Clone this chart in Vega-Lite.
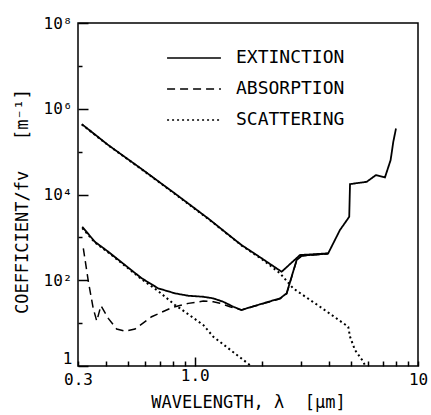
{
  "$schema": "https://vega.github.io/schema/vega-lite/v6.json",
  "width": 340,
  "height": 343,
  "autosize": {"type": "none"},
  "padding": {"left": 78, "top": 23, "right": 13, "bottom": 49},
  "background": "white",
  "config": {
    "view": {"stroke": "black", "strokeWidth": 1.5},
    "axis": {"domain": false, "grid": false, "tickColor": "black", "tickWidth": 1.5, "labelColor": "black", "titleColor": "black", "labelFont": "DejaVu Sans Mono", "titleFont": "DejaVu Sans Mono", "titleFontWeight": "normal", "labelOverlap": false, "labelFlush": false}
  },
  "data": {"values": [
    {"curve": "abs", "type": "ABSORPTION", "lam": 0.317, "val": 554},
    {"curve": "abs", "type": "ABSORPTION", "lam": 0.334, "val": 92},
    {"curve": "abs", "type": "ABSORPTION", "lam": 0.351, "val": 22},
    {"curve": "abs", "type": "ABSORPTION", "lam": 0.364, "val": 11.2},
    {"curve": "abs", "type": "ABSORPTION", "lam": 0.38, "val": 25.5},
    {"curve": "abs", "type": "ABSORPTION", "lam": 0.41, "val": 12.9},
    {"curve": "abs", "type": "ABSORPTION", "lam": 0.447, "val": 7.3},
    {"curve": "abs", "type": "ABSORPTION", "lam": 0.487, "val": 6.5},
    {"curve": "abs", "type": "ABSORPTION", "lam": 0.54, "val": 7.3},
    {"curve": "abs", "type": "ABSORPTION", "lam": 0.641, "val": 14.1},
    {"curve": "abs", "type": "ABSORPTION", "lam": 0.789, "val": 22.9},
    {"curve": "abs", "type": "ABSORPTION", "lam": 0.936, "val": 28.9},
    {"curve": "abs", "type": "ABSORPTION", "lam": 1.092, "val": 32.7},
    {"curve": "abs", "type": "ABSORPTION", "lam": 1.211, "val": 31.5},
    {"curve": "abs", "type": "ABSORPTION", "lam": 1.297, "val": 29},
    {"curve": "abs", "type": "ABSORPTION", "lam": 1.438, "val": 24.1},
    {"curve": "abs", "type": "ABSORPTION", "lam": 1.62, "val": 20.2},
    {"curve": "abs", "type": "ABSORPTION", "lam": 1.708, "val": 22},
    {"curve": "abs", "type": "ABSORPTION", "lam": 2.03, "val": 28.5},
    {"curve": "abs", "type": "ABSORPTION", "lam": 2.41, "val": 37},
    {"curve": "abs", "type": "ABSORPTION", "lam": 2.58, "val": 48},
    {"curve": "abs", "type": "ABSORPTION", "lam": 2.86, "val": 290},
    {"curve": "abs", "type": "ABSORPTION", "lam": 3.01, "val": 370},
    {"curve": "abs", "type": "ABSORPTION", "lam": 3.96, "val": 415},

    {"curve": "sca_hi", "type": "SCATTERING", "lam": 0.312, "val": 430000},
    {"curve": "sca_hi", "type": "SCATTERING", "lam": 0.41, "val": 140000},
    {"curve": "sca_hi", "type": "SCATTERING", "lam": 0.579, "val": 38500},
    {"curve": "sca_hi", "type": "SCATTERING", "lam": 0.816, "val": 10300},
    {"curve": "sca_hi", "type": "SCATTERING", "lam": 1.15, "val": 2700},
    {"curve": "sca_hi", "type": "SCATTERING", "lam": 1.62, "val": 650},
    {"curve": "sca_hi", "type": "SCATTERING", "lam": 2.0, "val": 310},
    {"curve": "sca_hi", "type": "SCATTERING", "lam": 2.41, "val": 145},
    {"curve": "sca_hi", "type": "SCATTERING", "lam": 2.76, "val": 64.7},
    {"curve": "sca_hi", "type": "SCATTERING", "lam": 3.64, "val": 24.1},
    {"curve": "sca_hi", "type": "SCATTERING", "lam": 4.87, "val": 8.24},
    {"curve": "sca_hi", "type": "SCATTERING", "lam": 4.96, "val": 4.82},
    {"curve": "sca_hi", "type": "SCATTERING", "lam": 5.22, "val": 2.36},
    {"curve": "sca_hi", "type": "SCATTERING", "lam": 5.69, "val": 1.26},
    {"curve": "sca_hi", "type": "SCATTERING", "lam": 5.8, "val": 1.0},

    {"curve": "sca_lo", "type": "SCATTERING", "lam": 0.3135, "val": 1650},
    {"curve": "sca_lo", "type": "SCATTERING", "lam": 0.357, "val": 760},
    {"curve": "sca_lo", "type": "SCATTERING", "lam": 0.41, "val": 445},
    {"curve": "sca_lo", "type": "SCATTERING", "lam": 0.487, "val": 218},
    {"curve": "sca_lo", "type": "SCATTERING", "lam": 0.579, "val": 105},
    {"curve": "sca_lo", "type": "SCATTERING", "lam": 0.686, "val": 56},
    {"curve": "sca_lo", "type": "SCATTERING", "lam": 0.816, "val": 26.4},
    {"curve": "sca_lo", "type": "SCATTERING", "lam": 0.859, "val": 22.1},
    {"curve": "sca_lo", "type": "SCATTERING", "lam": 1.092, "val": 9.03},
    {"curve": "sca_lo", "type": "SCATTERING", "lam": 1.211, "val": 4.82},
    {"curve": "sca_lo", "type": "SCATTERING", "lam": 1.768, "val": 1.05},
    {"curve": "sca_lo", "type": "SCATTERING", "lam": 1.8, "val": 1.0},

    {"curve": "ext_hi", "type": "EXTINCTION", "lam": 0.312, "val": 438000},
    {"curve": "ext_hi", "type": "EXTINCTION", "lam": 0.41, "val": 142000},
    {"curve": "ext_hi", "type": "EXTINCTION", "lam": 0.579, "val": 39100},
    {"curve": "ext_hi", "type": "EXTINCTION", "lam": 0.816, "val": 10500},
    {"curve": "ext_hi", "type": "EXTINCTION", "lam": 1.15, "val": 2743},
    {"curve": "ext_hi", "type": "EXTINCTION", "lam": 1.62, "val": 662},
    {"curve": "ext_hi", "type": "EXTINCTION", "lam": 1.995, "val": 324},
    {"curve": "ext_hi", "type": "EXTINCTION", "lam": 2.45, "val": 158},
    {"curve": "ext_hi", "type": "EXTINCTION", "lam": 2.96, "val": 387},
    {"curve": "ext_hi", "type": "EXTINCTION", "lam": 3.96, "val": 424},
    {"curve": "ext_hi", "type": "EXTINCTION", "lam": 4.47, "val": 1480},
    {"curve": "ext_hi", "type": "EXTINCTION", "lam": 4.92, "val": 3020},
    {"curve": "ext_hi", "type": "EXTINCTION", "lam": 4.96, "val": 17470},
    {"curve": "ext_hi", "type": "EXTINCTION", "lam": 5.89, "val": 19780},
    {"curve": "ext_hi", "type": "EXTINCTION", "lam": 6.48, "val": 28330},
    {"curve": "ext_hi", "type": "EXTINCTION", "lam": 7.11, "val": 25000},
    {"curve": "ext_hi", "type": "EXTINCTION", "lam": 7.54, "val": 63500},
    {"curve": "ext_hi", "type": "EXTINCTION", "lam": 7.75, "val": 169000},
    {"curve": "ext_hi", "type": "EXTINCTION", "lam": 7.97, "val": 347000},

    {"curve": "ext_lo", "type": "EXTINCTION", "lam": 0.3135, "val": 1766},
    {"curve": "ext_lo", "type": "EXTINCTION", "lam": 0.357, "val": 789},
    {"curve": "ext_lo", "type": "EXTINCTION", "lam": 0.41, "val": 462},
    {"curve": "ext_lo", "type": "EXTINCTION", "lam": 0.487, "val": 226},
    {"curve": "ext_lo", "type": "EXTINCTION", "lam": 0.579, "val": 111},
    {"curve": "ext_lo", "type": "EXTINCTION", "lam": 0.686, "val": 64.7},
    {"curve": "ext_lo", "type": "EXTINCTION", "lam": 0.816, "val": 49.5},
    {"curve": "ext_lo", "type": "EXTINCTION", "lam": 0.936, "val": 43.5},
    {"curve": "ext_lo", "type": "EXTINCTION", "lam": 1.092, "val": 41.2},
    {"curve": "ext_lo", "type": "EXTINCTION", "lam": 1.211, "val": 37.8},
    {"curve": "ext_lo", "type": "EXTINCTION", "lam": 1.342, "val": 31.5},
    {"curve": "ext_lo", "type": "EXTINCTION", "lam": 1.488, "val": 24.1},
    {"curve": "ext_lo", "type": "EXTINCTION", "lam": 1.62, "val": 20.2},
    {"curve": "ext_lo", "type": "EXTINCTION", "lam": 1.708, "val": 22.1},
    {"curve": "ext_lo", "type": "EXTINCTION", "lam": 2.03, "val": 29},
    {"curve": "ext_lo", "type": "EXTINCTION", "lam": 2.41, "val": 37.8},
    {"curve": "ext_lo", "type": "EXTINCTION", "lam": 2.58, "val": 49.5},
    {"curve": "ext_lo", "type": "EXTINCTION", "lam": 2.86, "val": 296},
    {"curve": "ext_lo", "type": "EXTINCTION", "lam": 3.01, "val": 375},
    {"curve": "ext_lo", "type": "EXTINCTION", "lam": 3.96, "val": 418}
  ]},
  "encoding": {
    "x": {
      "field": "lam", "type": "quantitative",
      "scale": {"type": "log", "domain": [0.3, 10], "nice": false},
      "axis": {
        "title": "WAVELENGTH, λ\u00a0\u00a0[μm]",
        "titleFontSize": 17, "titleBaseline": "alphabetic", "titleY": 41,
        "values": [0.3, 0.4, 0.5, 0.6, 0.7, 0.8, 0.9, 1, 2, 3, 4, 5, 6, 7, 8, 9, 10],
        "labelExpr": "datum.value < 0.35 ? '0.3' : (abs(datum.value - 1) < 0.01 ? '1.0' : (datum.value > 9.5 ? '10' : ''))",
        "labelFontSize": 16, "labelPadding": 10,
        "tickSize": {"condition": {"test": "abs(datum.value - 1) < 0.01", "value": -9}, "value": -5}
      }
    },
    "y": {
      "field": "val", "type": "quantitative",
      "scale": {"type": "log", "domain": [1, 100000000], "nice": false},
      "axis": {
        "title": "COEFFICIENT/fv\u00a0\u00a0\u00a0[m⁻¹]",
        "titleFontSize": 17, "titleX": -51, "titleY": 178, "titleBaseline": "alphabetic",
        "values": [1, 10, 100, 1000, 10000, 100000, 1000000, 10000000, 100000000],
        "labelExpr": "datum.value < 2 ? '1' : (abs(datum.value - 100) < 1 ? '10²' : (abs(datum.value - 10000) < 1 ? '10⁴' : (abs(datum.value - 1000000) < 1 ? '10⁶' : (abs(datum.value - 100000000) < 1 ? '10⁸' : ''))))",
        "labelFontSize": 16, "labelPadding": 16,
        "labelBaseline": {"condition": {"test": "datum.value < 2", "value": "bottom"}, "value": "middle"},
        "tickSize": {"condition": {"test": "round(log(datum.value) / LN10) % 2 == 0", "value": -10}, "value": -4}
      }
    },
    "strokeDash": {
      "field": "type", "type": "nominal",
      "scale": {"domain": ["EXTINCTION", "ABSORPTION", "SCATTERING"], "range": [[1, 0], [8, 5], [2, 3]]},
      "legend": {
        "title": null, "orient": "none", "legendX": 88, "legendY": 19.5,
        "symbolType": "stroke", "symbolSize": 2900, "symbolStrokeWidth": 1.5, "symbolStrokeColor": "black",
        "labelFont": "DejaVu Sans Mono", "labelFontSize": 18, "labelColor": "black", "rowPadding": 0, "clipHeight": 31, "labelOffset": 14
      }
    },
    "detail": {"field": "curve", "type": "nominal"}
  },
  "layer": [
    {"transform": [{"filter": "datum.type === 'ABSORPTION'"}], "mark": {"type": "line", "color": "black", "strokeWidth": 1.5, "clip": true}},
    {"transform": [{"filter": "datum.type === 'SCATTERING'"}], "mark": {"type": "line", "color": "black", "strokeWidth": 2, "clip": true}},
    {"transform": [{"filter": "datum.type === 'EXTINCTION'"}], "mark": {"type": "line", "color": "black", "strokeWidth": 1.8, "clip": true}}
  ]
}
